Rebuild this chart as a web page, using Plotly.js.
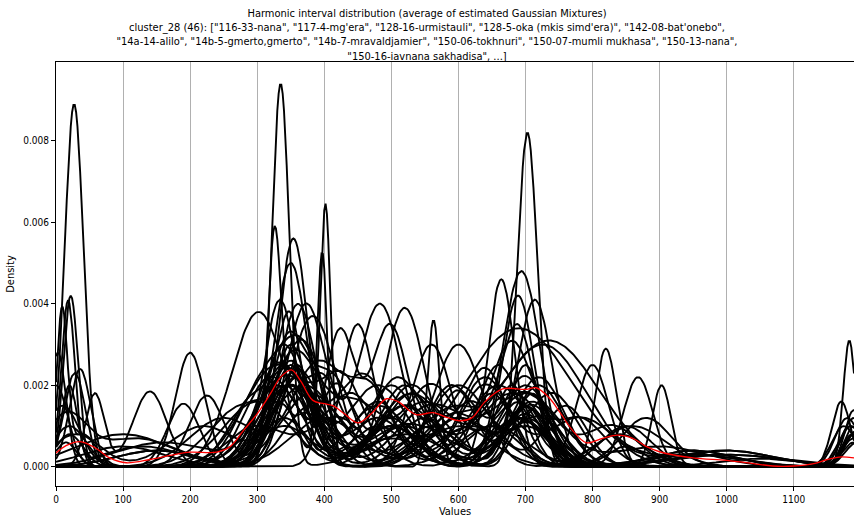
<!DOCTYPE html>
<html>
<head>
<meta charset="utf-8">
<script src="https://cdn.plot.ly/plotly-3.0.1.min.js"></script>
<style>html,body{margin:0;padding:0;background:#fff;}#chart{width:854px;height:520px;}</style>
</head>
<body>
<div id="chart"></div>
<script>
// Estimated Gaussian-mixture components per piece: [mean, sd, peak density]
const curveComponents = [
  [[27,14,0.0089],[340,35,0.0012],[500,40,0.0010],[700,35,0.0011],[1195,18,0.0006]],
  [[335,13,0.0094],[15,16,0.0006],[520,55,0.0008],[700,28,0.0015],[850,28,0.0005]],
  [[326,10,0.0054],[370,32,0.0013],[480,40,0.0012],[690,32,0.0016],[1190,15,0.0010]],
  [[402,7.5,0.0061],[350,28,0.0020],[560,40,0.0010],[700,32,0.0013],[150,60,0.0004]],
  [[397,7.5,0.0052],[330,26,0.0018],[500,32,0.0012],[650,40,0.0010],[950,70,0.0003]],
  [[703,15,0.0082],[340,40,0.0010],[500,50,0.0007],[20,20,0.0008],[1188,15,0.0008]],
  [[1183,9,0.0031],[350,28,0.0025],[600,45,0.0012],[720,38,0.0012]],
  [[22,11,0.0042],[350,26,0.0030],[500,40,0.0010],[700,32,0.0015],[1190,18,0.0007]],
  [[18,10,0.0040],[360,32,0.0022],[550,40,0.0012],[680,26,0.0020],[130,60,0.0005]],
  [[9,8,0.0037],[40,20,0.0008],[340,38,0.0020],[520,45,0.0010],[710,26,0.0018]],
  [[3,12,0.0028],[300,45,0.0010],[420,40,0.0012],[600,50,0.0010],[840,40,0.0008]],
  [[36,16,0.0024],[350,38,0.0020],[520,40,0.0015],[700,40,0.0012],[1000,80,0.0003]],
  [[28,16,0.0023],[200,22,0.0028],[400,50,0.0012],[620,50,0.0010]],
  [[58,14,0.0018],[140,25,0.00185],[330,32,0.0016],[500,45,0.0010],[710,26,0.0014]],
  [[190,24,0.00155],[354,22,0.0056],[560,40,0.0008],[700,40,0.0010]],
  [[225,26,0.00175],[350,25,0.0050],[480,40,0.0010],[690,45,0.0012],[1185,16,0.0010]],
  [[302,40,0.0038],[420,26,0.0020],[650,50,0.0010],[868,22,0.0022]],
  [[334,24,0.0041],[450,24,0.0035],[600,40,0.0012],[710,32,0.0015],[100,60,0.0005]],
  [[361,28,0.0040],[520,30,0.0039],[690,38,0.0012],[903,14,0.0020]],
  [[373,30,0.0040],[483,32,0.0040],[664,20,0.0046],[1190,18,0.0012]],
  [[383,35,0.0037],[563,9,0.0036],[694,28,0.0048],[820,16,0.0029]],
  [[423,22,0.0033],[498,28,0.0035],[689,24,0.0042],[1171,14,0.0016]],
  [[714,26,0.0041],[340,38,0.0025],[520,38,0.0020],[0,18,0.0020]],
  [[690,80,0.0034],[20,25,0.0010],[380,38,0.0015],[1000,70,0.0004]],
  [[735,75,0.0031],[350,45,0.0020],[520,50,0.0010],[160,70,0.0006]],
  [[726,65,0.0030],[300,50,0.0016],[580,40,0.0010],[1195,18,0.0009]],
  [[360,24,0.0025],[560,30,0.0030],[700,24,0.0025],[950,60,0.0004]],
  [[600,36,0.0030],[800,24,0.0025],[350,30,0.0020],[1188,16,0.0008]],
  [[330,50,0.0025],[460,38,0.0022],[640,38,0.0020],[780,50,0.0012],[950,70,0.0003]],
  [[345,26,0.0030],[410,32,0.0022],[530,38,0.0018],[700,38,0.0020],[1180,18,0.0012]],
  [[280,50,0.0015],[370,32,0.0028],[600,45,0.0020],[740,38,0.0018],[1190,14,0.0014]],
  [[10,25,0.0015],[320,38,0.0022],[440,38,0.0018],[660,32,0.0025],[860,50,0.0010]],
  [[100,70,0.0008],[350,32,0.0026],[480,38,0.0016],[640,38,0.0022],[1000,90,0.0003]],
  [[340,32,0.0030],[500,38,0.0020],[600,26,0.0018],[720,38,0.0020],[1185,18,0.0010]],
  [[360,38,0.0024],[550,50,0.0016],[680,32,0.0030],[780,38,0.0012],[1050,60,0.0002]],
  [[15,30,0.0012],[120,60,0.0007],[330,38,0.0020],[530,50,0.0018],[710,38,0.0016]],
  [[250,50,0.0012],[390,38,0.0025],[470,32,0.0018],[660,45,0.0020],[880,38,0.0012]],
  [[340,45,0.0022],[430,32,0.0020],[590,38,0.0020],[700,32,0.0022],[1190,14,0.0008]],
  [[30,36,0.0008],[220,50,0.0010],[360,35,0.0022],[520,45,0.0015],[680,50,0.0018],[950,60,0.0004]],
  [[300,38,0.0018],[350,18,0.0030],[480,45,0.0015],[620,38,0.0016],[760,32,0.0015]],
  [[355,38,0.0028],[450,38,0.0015],[560,38,0.0020],[700,45,0.0018],[830,38,0.0010]],
  [[330,32,0.0025],[400,26,0.0020],[510,38,0.0022],[650,32,0.0018],[1000,70,0.0004]],
  [[370,50,0.0020],[600,60,0.0015],[690,24,0.0030],[1175,18,0.0010]],
  [[20,12,0.0020],[340,38,0.0024],[480,45,0.0020],[720,38,0.0022],[1190,18,0.0006]],
  [[380,45,0.0018],[530,38,0.0020],[640,32,0.0024],[850,38,0.0010],[150,60,0.0004]],
  [[310,38,0.0020],[370,32,0.0025],[560,50,0.0015],[700,50,0.0018],[900,70,0.0005]]
];

// Red average curve
const avgX = [0,15,36,60,80,105,140,170,200,240,260,280,300,320,335,351,365,383,400,413,430,450,470,493,510,537,562,585,604,620,640,666,701,716,735,751,770,791,815,837,860,880,900,950,1000,1040,1069,1100,1130,1150,1168,1190];
const avgY = [0.00034,0.00052,0.00062,0.00045,0.00022,0.0001,0.00018,0.00028,0.00036,0.00036,0.0005,0.0009,0.0013,0.0018,0.0022,0.00238,0.0021,0.00163,0.00155,0.0015,0.0013,0.00108,0.0013,0.00167,0.0016,0.00128,0.00133,0.0012,0.00113,0.0012,0.0016,0.00191,0.0019,0.00194,0.0017,0.00135,0.0009,0.00059,0.0007,0.00078,0.0007,0.0005,0.00037,0.00022,0.00016,0.00008,0.00002,0.00002,0.00008,0.00018,0.00024,0.00022];

const xTicks = [0,100,200,300,400,500,600,700,800,900,1000,1100];
const yTicks = [0,0.002,0.004,0.006,0.008];

const xGrid = [];
for (let v = 0; v <= 1190; v += 2) xGrid.push(v);

function mixtureDensity(comps, x) {
  let s = 0;
  for (const [m, sd, h] of comps) { const z = (x - m) / sd; s += h * Math.exp(-0.5 * z * z); }
  return s;
}

const traces = curveComponents.map(c => ({
  type: 'scatter', mode: 'lines', x: xGrid, y: xGrid.map(x => mixtureDensity(c, x)),
  line: {color: '#000000', width: 1.9}, hoverinfo: 'skip', showlegend: false
}));
traces.push({type: 'scatter', mode: 'lines', x: avgX, y: avgY, line: {color: '#ff0000', width: 1.3, shape: 'spline', smoothing: 1}, showlegend: false});

const titleText = 'Harmonic interval distribution (average of estimated Gaussian Mixtures)<br>' +
 'cluster_28 (46): ["116-33-nana", "117-4-mg\'era", "128-16-urmistauli", "128-5-oka (mkis simd\'era)", "142-08-bat\'onebo",<br>' +
 '"14a-14-alilo", "14b-5-gmerto,gmerto", "14b-7-mravaldjamier", "150-06-tokhnuri", "150-07-mumli mukhasa", "150-13-nana",<br>' +
 '"150-16-iavnana sakhadisa", ...]';

const layout = {
  width: 854, height: 520,
  margin: {l: 56, r: 0, t: 62, b: 34},
  paper_bgcolor: '#fff', plot_bgcolor: '#fff',
  font: {family: '"DejaVu Sans Condensed", "Liberation Sans Narrow", "DejaVu Sans", sans-serif', size: 10, color: '#000'},
  title: {text: titleText, x: 0.5, xref: 'container', xanchor: 'center', y: 0.968, yref: 'container', yanchor: 'top',
          font: {size: 11, color: '#000'}},
  xaxis: {range: [0, 1190], tickvals: xTicks, ticktext: xTicks.map(String), showgrid: true, gridcolor: '#b0b0b0', gridwidth: 1,
          zeroline: false, showline: true, linecolor: '#000', linewidth: 1, mirror: true, ticks: 'outside', ticklen: 4, tickcolor: '#000',
          title: {text: 'Values', font: {size: 11}, standoff: 2}},
  yaxis: {range: [-0.00047, 0.00993], tickvals: yTicks, ticktext: yTicks.map(v => v.toFixed(3)), showgrid: false,
          zeroline: false, showline: true, linecolor: '#000', linewidth: 1, mirror: true, ticks: 'outside', ticklen: 4, tickcolor: '#000',
          title: {text: 'Density', font: {size: 11}, standoff: 6}}
};

Plotly.newPlot('chart', traces, layout, {staticPlot: true, displayModeBar: false});
</script>
</body>
</html>
